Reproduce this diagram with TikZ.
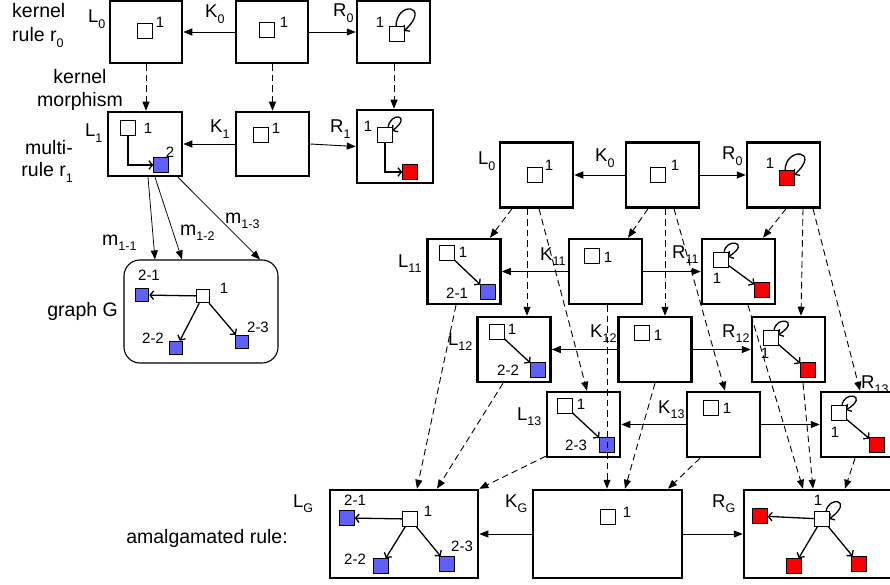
\documentclass[tikz,border=0pt]{standalone}
\usepackage{fontspec}
\setmainfont{Liberation Sans}
\usetikzlibrary{arrows.meta,calc}
\definecolor{blueC}{RGB}{95,95,250}
\definecolor{redC}{RGB}{250,0,0}
\newcommand\sbs[1]{\raisebox{-0.3em}{\fontsize{12.5}{13}\selectfont #1}}
\begin{document}
\begin{tikzpicture}[x=1pt,y=-1pt,
  box/.style={draw, line width=2.5pt, inner sep=0pt, minimum width=73pt, minimum height=65pt},
  sq/.style={draw, line width=1pt, fill=white, minimum size=14.5pt, inner sep=0pt},
  bsq/.style={sq, fill=blueC},
  rsq/.style={sq, fill=redC},
  lab/.style={font=\fontsize{18.5}{20}\selectfont, inner sep=0pt, anchor=base west},
  txt/.style={font=\fontsize{19.5}{22}\selectfont, inner sep=0pt},
  num/.style={font=\fontsize{15}{16}\selectfont, inner sep=0pt},
  dar/.style={dash pattern=on 6.5pt off 4pt, line width=0.9pt, -{Triangle[length=9pt,width=7pt]}},
  sar/.style={line width=0.9pt, -{Triangle[length=9pt,width=7pt]}},
  iar/.style={line width=1.3pt, -{Straight Barb[length=3.5pt,width=8.5pt]}}
]
\useasboundingbox (0,0) rectangle (890,585);

% ---------- top-left: kernel rule and multi-rule ----------
\node[box,minimum width=72pt,minimum height=62pt] (L0) at (146,32) {};
\node[box,minimum width=72pt,minimum height=62pt] (K0) at (272,32) {};
\node[box,minimum width=73pt,minimum height=62pt] (R0) at (393.5,32) {};
\node[box,minimum width=74pt,minimum height=64pt] (L1) at (145,144) {};
\node[box,minimum width=73pt,minimum height=64pt] (K1) at (272.5,144) {};
\node[box,minimum width=76pt,minimum height=73pt] (R1) at (395,146.5) {};
\node[draw,line width=1.1pt,rounded corners=16pt,minimum width=154pt,minimum height=103pt,inner sep=0pt] (G) at (201,311.5) {};

\node[txt,anchor=base west] (t1) at (12,18) {kernel};
\node[txt,anchor=base west] (t2) at (12,42) {rule r\sbs{0}};
\node[txt,anchor=base] (t3) at (80,84) {kernel};
\node[txt,anchor=base] (t4) at (80,107) {morphism};
\node[txt,anchor=base east] (t5) at (73,155) {multi-};
\node[txt,anchor=base east] (t6) at (73,177) {rule r\sbs{1}};
\node[txt,anchor=base east] (t7) at (118,316) {graph G};
\node[txt,anchor=base east] (t8) at (288,543) {amalgamated rule:};

\node[lab] (tL0) at (88,23) {L\sbs{0}};
\node[lab] (tK0) at (205,18) {K\sbs{0}};
\node[lab] (tR0) at (333,17) {R\sbs{0}};
\node[lab] (tL1) at (85,137) {L\sbs{1}};
\node[lab] (tK1) at (210,133) {K\sbs{1}};
\node[lab] (tR1) at (330,133) {R\sbs{1}};

% contents
\node[sq] (l0a) at (145,31) {}; \node[num] (l0n) at (160,22) {1};
\node[sq] (k0a) at (267,30) {}; \node[num] (k0n) at (284,22) {1};
\node[sq] (r0a) at (397,34) {}; \node[num] (r0n) at (380,22) {1};
\draw[iar] ($(r0a)+(-1,-7)$) .. controls ($(r0a)+(-1,-34)$) and ($(r0a)+(35,-29)$) .. ($(r0a)+(7,-3)$);

\node[sq] (l1a) at (128,128) {}; \node[num] (l1n) at (148,128) {1};
\node[bsq] (l1b) at (161,165) {}; \node[num] (l1m) at (170,152) {2};
\draw[iar] (l1a.south) |- (l1b.west);
\node[sq] (k1a) at (261,135) {}; \node[num] (k1n) at (276,128) {1};
\node[sq] (r1a) at (385,135) {}; \node[num] (r1n) at (368,126) {1};
\node[rsq] (r1b) at (410,172) {};
\draw[iar] (r1a.south) |- (r1b.west);
\draw[iar] ($(r1a)+(3,-7)$) .. controls ($(r1a)+(5,-24)$) and ($(r1a)+(28,-20)$) .. ($(r1a)+(7,-4)$);

\draw[sar] (K0) -- (L0);
\draw[sar] (K0) -- (R0);
\draw[sar] (K1) -- (L1);
\draw[sar] (K1.east) -- (R1.west);
\draw[dar] (L0.south) -- (L0.south |- L1.north);
\draw[dar] ([xshift=0.5pt]K0.south) -- ([xshift=0.5pt]K0.south |- K1.north);
\draw[dar] ([xshift=0.5pt]R0.south) -- ([xshift=0.5pt]R0.south |- R1.north);

% graph G
\node[bsq,minimum size=13.5pt] (g21) at (142,295) {}; \node[num] (g21n) at (149,275) {2-1};
\node[sq,minimum size=13.5pt] (gw) at (203,296) {}; \node[num] (gwn) at (224,288) {1};
\node[bsq,minimum size=13.5pt] (g22) at (176,348) {}; \node[num] (g22n) at (153,338) {2-2};
\node[bsq,minimum size=13.5pt] (g23) at (242,342) {}; \node[num] (g23n) at (258,327) {2-3};
\draw[iar] (gw) -- (g21);
\draw[iar] (gw) -- (g22);
\draw[iar] (gw) -- (g23);

\draw[sar,line width=0.75pt] ([xshift=3pt]L1.south) -- ([xshift=-46pt]G.north);
\draw[sar,line width=0.75pt] ([xshift=10pt]L1.south) -- ([xshift=-19pt]G.north);
\draw[sar,line width=0.75pt] ([xshift=33pt]L1.south) -- ([xshift=59pt]G.north);
\node[txt,anchor=base west] (m11) at (102,245) {m\sbs{1-1}};
\node[txt,anchor=base west] (m12) at (180,235) {m\sbs{1-2}};
\node[txt,anchor=base west] (m13) at (225,223) {m\sbs{1-3}};

% ---------- right: amalgamation ----------
\node[box] (L0r) at (536.5,175) {};
\node[box] (K0r) at (662.5,175) {};
\node[box] (R0r) at (783.5,175) {};
\node[box] (L11) at (464,271.5) {};
\node[box] (K11) at (605.5,271.5) {};
\node[box] (R11) at (738.5,271.5) {};
\node[box] (L12) at (514,349.5) {};
\node[box] (K12) at (655,349.5) {};
\node[box] (R12) at (788.5,349.5) {};
\node[box] (L13) at (583.5,424.5) {};
\node[box] (K13) at (723.5,424.5) {};
\node[box] (R13) at (857.5,424.5) {};
\node[box,minimum width=148pt,minimum height=88pt] (LG) at (404,534) {};
\node[box,minimum width=149pt,minimum height=88pt] (KG) at (607.5,534) {};
\node[box,minimum width=149pt,minimum height=88pt] (RG) at (818.5,534) {};

\node[lab] (tL0r) at (478,165) {L\sbs{0}};
\node[lab] (tK0r) at (595,162) {K\sbs{0}};
\node[lab] (tR0r) at (722,160) {R\sbs{0}};
\node[lab] (tL11) at (398,267) {L\sbs{11}};
\node[lab] (tK11) at (540,260) {K\sbs{11}};
\node[lab] (tR11) at (672,258) {R\sbs{11}};
\node[lab] (tL12) at (448,345) {L\sbs{12}};
\node[lab] (tK12) at (590,337) {K\sbs{12}};
\node[lab] (tR12) at (722,337) {R\sbs{12}};
\node[lab] (tL13) at (517,420) {L\sbs{13}};
\node[lab] (tK13) at (658,413) {K\sbs{13}};
\node[lab] (tR13) at (861,388) {R\sbs{13}};
\node[lab] (tLG) at (293,507) {L\sbs{G}};
\node[lab] (tKG) at (505,507) {K\sbs{G}};
\node[lab] (tRG) at (712,507) {R\sbs{G}};

% contents right
\node[sq] (l0ra) at (535,175) {}; \node[num] (l0rn) at (549,165) {1};
\node[sq] (k0ra) at (658,175) {}; \node[num] (k0rn) at (675,165) {1};
\node[rsq] (r0ra) at (787,178) {}; \node[num] (r0rn) at (770,163) {1};
\draw[iar] ($(r0ra)+(-2,-7)$) .. controls ($(r0ra)+(-2,-32)$) and ($(r0ra)+(35,-28)$) .. ($(r0ra)+(7,-3)$);

\node[sq] (l11a) at (447,253) {}; \node[num] (l11n) at (463,252) {1};
\node[bsq] (l11b) at (488,292) {}; \node[num] (l11m) at (457,293) {2-1};
\draw[iar] (l11a) -- (l11b);
\node[sq] (k11a) at (592,256) {}; \node[num] (k11n) at (608,257) {1};
\node[sq] (r11a) at (721,260) {}; \node[num] (r11n) at (717,278) {1};
\node[rsq] (r11b) at (762,290) {};
\draw[iar] (r11a) -- (r11b);
\draw[iar] ($(r11a)+(3,-7)$) .. controls ($(r11a)+(4,-23)$) and ($(r11a)+(31,-18)$) .. ($(r11a)+(7,-3)$);

\node[sq] (l12a) at (497,332) {}; \node[num] (l12n) at (512,329) {1};
\node[bsq] (l12b) at (538,370) {}; \node[num] (l12m) at (508,370) {2-2};
\draw[iar] (l12a) -- (l12b);
\node[sq] (k12a) at (642,333) {}; \node[num] (k12n) at (658,335) {1};
\node[sq] (r12a) at (771,338) {}; \node[num] (r12n) at (765,353) {1};
\node[rsq] (r12b) at (808,370) {};
\draw[iar] (r12a) -- (r12b);
\draw[iar] ($(r12a)+(3,-7)$) .. controls ($(r12a)+(4,-23)$) and ($(r12a)+(31,-18)$) .. ($(r12a)+(7,-3)$);

\node[sq] (l13a) at (565,406) {}; \node[num] (l13n) at (581,404) {1};
\node[bsq] (l13b) at (607,445) {}; \node[num] (l13m) at (576,445) {2-3};
\draw[iar] (l13a) -- (l13b);
\node[sq] (k13a) at (711,408) {}; \node[num] (k13n) at (727,408) {1};
\node[sq] (r13a) at (839,413) {}; \node[num] (r13n) at (835,432) {1};
\node[rsq] (r13b) at (877,445) {};
\draw[iar] (r13a) -- (r13b);
\draw[iar] ($(r13a)+(3,-7)$) .. controls ($(r13a)+(4,-23)$) and ($(r13a)+(31,-18)$) .. ($(r13a)+(7,-3)$);

\node[bsq] (lg21) at (347,518) {}; \node[num] (lg21n) at (355,500) {2-1};
\node[sq] (lgw) at (410,519) {}; \node[num] (lgwn) at (428,511) {1};
\node[bsq] (lg22) at (381,566) {}; \node[num] (lg22n) at (355,559) {2-2};
\node[bsq] (lg23) at (447,564) {}; \node[num] (lg23n) at (462,546) {2-3};
\draw[iar] (lgw) -- (lg21);
\draw[iar] (lgw) -- (lg22);
\draw[iar] (lgw) -- (lg23);
\node[sq] (kga) at (608,517) {}; \node[num] (kgn) at (627,512) {1};
\node[sq] (rgw) at (822,519) {}; \node[num] (rgwn) at (818,500) {1};
\node[rsq] (rgl) at (760,516) {};
\node[rsq] (rgb1) at (794,566) {};
\node[rsq] (rgb2) at (859,564) {};
\draw[iar] (rgw) -- (rgl);
\draw[iar] (rgw) -- (rgb1);
\draw[iar] (rgw) -- (rgb2);
\draw[iar] ($(rgw)+(4,-7)$) .. controls ($(rgw)+(6,-24)$) and ($(rgw)+(33,-19)$) .. ($(rgw)+(7,0)$);

% horizontal span arrows
\draw[sar] (K0r) -- (L0r);
\draw[sar] (K0r) -- (R0r);
\draw[sar] (K11) -- (L11);
\draw[sar] (K11) -- (R11);
\draw[sar] (K12) -- (L12);
\draw[sar] (K12) -- (R12);
\draw[sar] (K13) -- (L13);
\draw[sar] (K13) -- (R13);
\draw[sar] (KG) -- (LG);
\draw[sar] (KG) -- (RG);

% dashed kernel morphisms
\draw[dar] ([xshift=-24.5pt]L0r.south) -- ([xshift=26pt]L11.north);
\draw[dar] ([xshift=-9.5pt]L0r.south) -- ([xshift=13pt]L12.north);
\draw[dar] ([xshift=2.5pt]L0r.south) -- ([xshift=3.5pt]L13.north);
\draw[dar] ([xshift=-14.5pt]K0r.south) -- ([xshift=22.5pt]K11.north);
\draw[dar] ([xshift=2.5pt]K0r.south) -- ([xshift=10pt]K12.north);
\draw[dar] ([xshift=11.5pt]K0r.south) -- ([xshift=1.5pt]K13.north);
\draw[dar] ([xshift=2.5pt]R0r.south) -- ([xshift=24.5pt]R11.north);
\draw[dar] ([xshift=19.5pt]R0r.south) -- ([xshift=12.5pt]R12.north);
\draw[dar] ([xshift=29.5pt]R0r.south) -- ([xshift=2.5pt]R13.north);
% dashed into amalgamated rule
\draw[dar] ([xshift=-8pt]L11.south) -- ([xshift=13pt]LG.north);
\draw[dar] ([xshift=-11pt]L12.south) -- ([xshift=33pt]LG.north);
\draw[dar] ([yshift=2pt]L13.south west) -- (LG.north east);
\draw[dar] ([xshift=1.5pt]K11.south) -- ([xshift=-0.5pt]KG.north);
\draw[dar] (K12.south) -- ([xshift=17.5pt]KG.north);
\draw[dar] ([xshift=-23.5pt]K13.south) -- ([xshift=60.5pt]KG.north);
\draw[dar] ([xshift=9.5pt]R11.south) -- ([xshift=-15.5pt]RG.north);
\draw[dar] ([xshift=14.5pt]R12.south) -- ([xshift=-5.5pt]RG.north);
\draw[dar] ([xshift=-2.5pt]R13.south) -- ([xshift=26.5pt]RG.north);
\end{tikzpicture}
\end{document}
